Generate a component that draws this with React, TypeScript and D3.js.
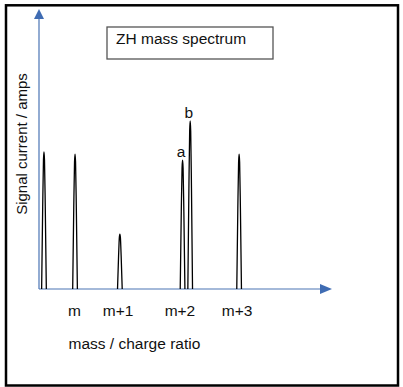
import React from "react";
import * as d3 from "d3";

// peak positions (arbitrary m/z units along the axis) and heights (% of axis)
const peakMz = [1.7, 12.3, 27.6, 49.0, 51.6, 68.3];
const peakHeight = [49, 48.2, 19.6, 46, 60, 48.2];
const peakLabels = ["", "", "", "a", "b", ""];

const tickMz = [12.1, 27.0, 48.1, 67.6];
const tickLabels = ["m", "m+1", "m+2", "m+3"];

const title = "ZH mass spectrum";
const xTitle = "mass / charge ratio";
const yTitle = "Signal current / amps";

const W = 403;
const H = 387;
const font = "'Liberation Sans', Arial, sans-serif";
const axisColor = "#4a74b4";

export default function App() {
  const x = d3.scaleLinear().domain([0, 100]).range([39, 332]);
  const y = d3.scaleLinear().domain([0, 100]).range([289, 9]);
  const hw = 0.8; // half width of a peak at the base, in x units

  const peakLine = d3
    .line<[number, number]>()
    .x((d) => x(d[0]))
    .y((d) => y(d[1]))
    .curve(d3.curveMonotoneX);

  const peakPath = (m: number, h: number) =>
    peakLine([
      [m - hw, 0],
      [m - hw * 0.55, h * 0.6],
      [m - hw * 0.22, h * 0.94],
      [m, h],
      [m + hw * 0.22, h * 0.94],
      [m + hw * 0.55, h * 0.6],
      [m + hw, 0],
    ]) as string;

  const x0 = x(0);
  const y0 = y(0);
  const xEnd = x(100);
  const yEnd = y(100);

  return (
    <svg
      width={W}
      height={H}
      style={{ position: "absolute", left: 0, top: 0, background: "#fff" }}
      fontFamily={font}
    >
      <rect x={6} y={5.3} width={392} height={380.2} fill="none" stroke="#000" strokeWidth={2.5} />

      {/* title box */}
      <rect x={107} y={27} width={166} height={32} fill="#fff" stroke="#555" strokeWidth={1.3} />
      <text x={116} y={44.3} fontSize={15.5} fill="#111">{title}</text>

      {/* axes */}
      <line x1={x0} y1={y0} x2={x0} y2={yEnd + 9} stroke={axisColor} strokeWidth={1.2} />
      <path d={`M${x0},${yEnd} L${x0 - 5},${yEnd + 10} L${x0 + 5},${yEnd + 10} Z`} fill="#3f6cb3" />
      <line x1={x0} y1={y0} x2={xEnd - 11} y2={y0} stroke={axisColor} strokeWidth={1.2} />
      <path d={`M${xEnd},${y0} L${xEnd - 12},${y0 - 5} L${xEnd - 12},${y0 + 5} Z`} fill="#3f6cb3" />

      {/* peaks */}
      {peakMz.map((m, i) => (
        <path key={i} d={peakPath(m, peakHeight[i])} fill="none" stroke="#000" strokeWidth={1.3} />
      ))}
      {peakMz.map((m, i) =>
        peakLabels[i] ? (
          <text key={"l" + i} x={x(m) - 1.5} y={y(peakHeight[i]) - 3} fontSize={15.5} textAnchor="middle" fill="#111">
            {peakLabels[i]}
          </text>
        ) : null
      )}

      {/* tick labels */}
      {tickMz.map((m, i) => (
        <text key={"t" + i} x={x(m)} y={316} fontSize={15.5} textAnchor="middle" fill="#111">
          {tickLabels[i]}
        </text>
      ))}
      <text x={68.5} y={349} fontSize={15.5} fill="#111">{xTitle}</text>
      <text transform="translate(27,144) rotate(-90)" fontSize={15} textAnchor="middle" fill="#111">
        {yTitle}
      </text>
    </svg>
  );
}
